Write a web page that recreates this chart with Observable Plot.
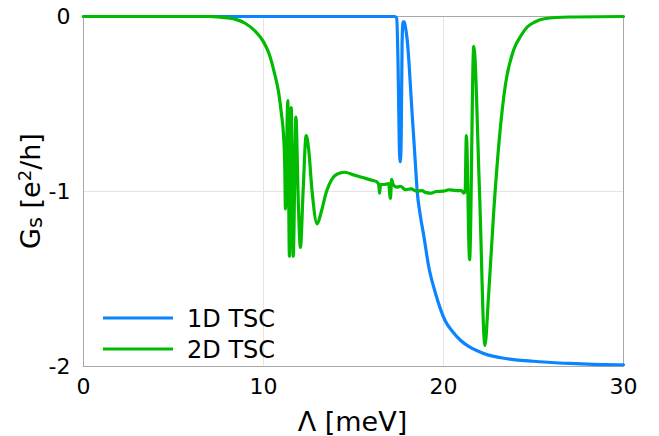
<!DOCTYPE html>
<html>
<head>
<meta charset="utf-8">
<script src="https://cdn.jsdelivr.net/npm/d3@7"></script>
<script src="https://cdn.jsdelivr.net/npm/@observablehq/plot@0.6"></script>
<style>
  html, body { margin: 0; padding: 0; background: #fff; }
  #chart { width: 659px; height: 436px; }
</style>
</head>
<body>
<div id="chart"></div>
<script>
// ---- data ----
const seriesNames = ["1D TSC", "2D TSC"];
const seriesColors = ["#0a84ff", "#00bb00"];
const xTicks = [0, 10, 20, 30];
const yTicks = [0, -1, -2];
const xGrid = [10, 20];
const yGrid = [-1];

const lambda1D = [0, 5, 10, 15, 17.3, 17.4, 17.48, 17.55, 17.6, 17.65, 17.7, 17.75, 17.82, 17.9, 17.98, 18.08, 18.17, 18.26, 18.35, 18.45, 18.54, 18.7, 18.9, 19.18, 19.55, 20.1, 20.5, 20.94, 21.4, 21.87, 22.5, 23.2, 24, 25, 26, 27, 28, 29, 30];
const g1D      = [0, 0, 0, 0, 0, -0.01, -0.3, -0.76, -0.83, -0.7, -0.15, -0.03, -0.03, -0.07, -0.13, -0.26, -0.41, -0.56, -0.70, -0.86, -1.0, -1.13, -1.25, -1.43, -1.58, -1.74, -1.8, -1.85, -1.885, -1.91, -1.935, -1.95, -1.962, -1.97, -1.977, -1.982, -1.986, -1.989, -1.99];

const lambda2D = [0, 5, 7, 7.5, 8, 8.5, 9, 9.5, 10, 10.3, 10.6, 10.85, 11.0, 11.1, 11.18, 11.22, 11.35, 11.44, 11.54, 11.65, 11.8, 11.93, 12.05, 12.2, 12.37, 12.5, 12.7, 12.98, 13.2, 13.5, 13.8, 14.1, 14.5, 15, 15.5, 16, 16.3, 16.4, 16.45, 16.5, 16.7, 16.95, 17.05, 17.12, 17.2, 17.3, 17.4, 17.6, 17.9, 18.2, 18.5, 18.8, 19.0, 19.3, 19.6, 20.0, 20.3, 20.7, 21.0, 21.13, 21.2, 21.27, 21.45, 21.68, 22.0, 22.3, 22.5, 22.8, 23.1, 23.44, 23.9, 24.3, 24.65, 25.1, 25.6, 27, 30];
const g2D      = [0, 0, 0, -0.003, -0.008, -0.018, -0.04, -0.08, -0.145, -0.21, -0.32, -0.44, -0.56, -0.66, -0.85, -1.10, -0.48, -1.37, -0.52, -1.37, -0.575, -1.05, -1.32, -1.0, -0.68, -0.75, -1.0, -1.185, -1.12, -1.0, -0.93, -0.9, -0.89, -0.905, -0.92, -0.935, -0.945, -0.96, -1.01, -0.96, -0.96, -0.955, -1.04, -0.93, -0.96, -0.97, -0.975, -0.97, -0.99, -0.985, -0.998, -0.995, -1.005, -1.01, -1.0, -0.998, -0.99, -0.995, -0.995, -1.01, -1.0, -0.68, -1.39, -0.17, -1.0, -1.88, -1.6, -1.1, -0.7, -0.39, -0.19, -0.11, -0.06, -0.03, -0.013, -0.003, 0];

const data1D = lambda1D.map((x, i) => ({x, y: g1D[i], s: seriesNames[0]}));
const data2D = lambda2D.map((x, i) => ({x, y: g2D[i], s: seriesNames[1]}));

const FONT = "DejaVu Sans";

const chart = Plot.plot({
  width: 659,
  height: 436,
  marginLeft: 83,
  marginRight: 36,
  marginTop: 16,
  marginBottom: 70,
  x: {domain: [0, 30]},
  y: {domain: [-2, 0]},
  style: {fontFamily: FONT, fontSize: "22px", color: "#000", background: "#fff", overflow: "visible"},
  marks: [
    Plot.gridX(xGrid, {stroke: "#e4e4e4", strokeOpacity: 1, strokeWidth: 1}),
    Plot.gridY(yGrid, {stroke: "#e4e4e4", strokeOpacity: 1, strokeWidth: 1}),
    Plot.frame({stroke: "#a8a8a8", strokeWidth: 1}),
    Plot.axisX(xTicks, {tickSize: 0, tickPadding: 12, label: null, fontSize: 22, fill: "#000"}),
    Plot.axisY(yTicks, {tickSize: 0, tickPadding: 13, label: null, fontSize: 22, fill: "#000", tickFormat: d => String(d)}),
    Plot.line(data1D, {x: "x", y: "y", curve: "monotone-x", stroke: seriesColors[0], strokeWidth: 3.2, strokeLinejoin: "round", strokeLinecap: "round"}),
    Plot.line(data2D, {x: "x", y: "y", curve: "monotone-x", stroke: seriesColors[1], strokeWidth: 3.2, strokeLinejoin: "round", strokeLinecap: "round"})
  ]
});

document.getElementById("chart").appendChild(chart);

const svg = d3.select(chart);

// x-axis label
svg.append("text")
  .attr("x", 352.5).attr("y", 431)
  .attr("text-anchor", "middle")
  .attr("font-family", FONT).attr("font-size", 27).attr("fill", "#000")
  .text("Λ [meV]");

// y-axis label with subscript/superscript
const yl = svg.append("text")
  .attr("transform", "translate(40,191) rotate(-90)")
  .attr("text-anchor", "middle")
  .attr("font-family", FONT).attr("font-size", 27).attr("fill", "#000");
yl.append("tspan").text("G");
yl.append("tspan").attr("font-size", 21).attr("dy", 2).text("s");
yl.append("tspan").attr("dy", -2).text(" [e");
yl.append("tspan").attr("font-size", 18).attr("dy", -9).text("2");
yl.append("tspan").attr("dy", 9).text("/h]");

// legend
const legendY = [318, 349];
seriesNames.forEach((name, i) => {
  svg.append("line")
    .attr("x1", 103).attr("x2", 173)
    .attr("y1", legendY[i]).attr("y2", legendY[i])
    .attr("stroke", seriesColors[i]).attr("stroke-width", 3.2);
  svg.append("text")
    .attr("x", 187).attr("y", legendY[i]).attr("dy", "0.36em")
    .attr("text-anchor", "start")
    .attr("font-family", FONT).attr("font-size", 24).attr("fill", "#000")
    .text(name);
});
</script>
</body>
</html>
